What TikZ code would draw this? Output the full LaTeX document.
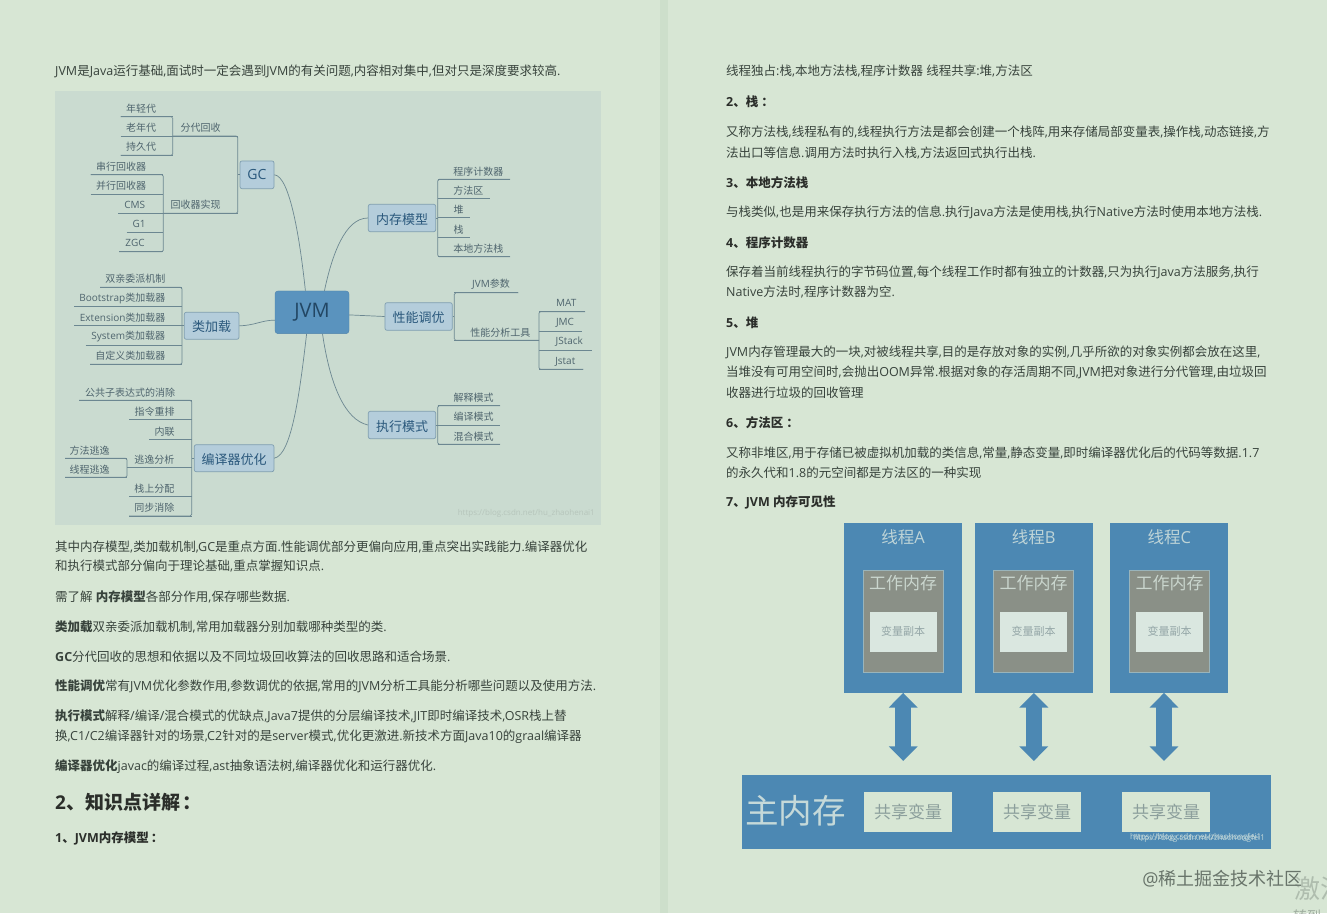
\documentclass[tikz,border=0pt]{standalone}
\usepackage{fontspec}
\usetikzlibrary{positioning,arrows.meta}
\setmainfont{Open Sans}
\newfontfamily\cjk{Noto Sans CJK SC}
% switch family by character range
\chardef\cjkcls=7
\newcount\cjkidx
\cjkidx="3000 \loop \XeTeXcharclass\cjkidx=\cjkcls \ifnum\cjkidx<"30FF \advance\cjkidx 1 \repeat
\cjkidx="4E00 \loop \XeTeXcharclass\cjkidx=\cjkcls \ifnum\cjkidx<"9FFF \advance\cjkidx 1 \repeat
\cjkidx="FF00 \loop \XeTeXcharclass\cjkidx=\cjkcls \ifnum\cjkidx<"FFEF \advance\cjkidx 1 \repeat
\XeTeXinterchartokenstate=1
\XeTeXinterchartoks 0 \cjkcls={\cjk}
\XeTeXinterchartoks 4095 \cjkcls={\cjk}
\XeTeXinterchartoks \cjkcls 0={\rmfamily}
\XeTeXinterchartoks \cjkcls 4095={\rmfamily}
\definecolor{pagebg}{HTML}{D7E6D4}
\definecolor{gutter}{HTML}{CDDFCB}
\definecolor{panelbg}{HTML}{CADBD0}
\definecolor{bodyink}{HTML}{38433C}
\definecolor{leafink}{HTML}{4F656E}
\definecolor{twigline}{HTML}{6C8791}
\definecolor{topicfill}{HTML}{B4CDDB}
\definecolor{topicline}{HTML}{7F9EB0}
\definecolor{topicink}{HTML}{2A587C}
\definecolor{rootfill}{HTML}{5A93BE}
\definecolor{threadblue}{HTML}{4C88B3}
\definecolor{workgrey}{HTML}{8A9087}
\definecolor{copybox}{HTML}{DAE7E0}
\begin{document}
\begin{tikzpicture}[
     x=1pt,y=-1pt,
     % define styles
     para/.style={anchor=west,inner sep=0pt,yshift=-0.5pt,text=bodyink,font=\fontsize{12.5}{15}\selectfont},
     parahead/.style={para,text=black!80!pagebg,font=\fontsize{12.5}{15}\selectfont\bfseries},
     leaf/.style={inner sep=0pt,yshift=-0.7pt,text=leafink,font=\fontsize{10}{12}\selectfont},
     twig/.style={draw=twigline,line width=0.7pt,rounded corners=1.5pt},
     bough/.style={draw=twigline,line width=0.7pt},
     topic/.style={draw=topicline,fill=topicfill,rounded corners=2pt,line width=0.7pt,inner sep=0pt,
         text height=12pt,text depth=0pt,text=topicink,font=\fontsize{13}{15}\selectfont},
     root/.style={draw=rootfill!90!black,fill=rootfill,rounded corners=3pt,inner sep=0pt,
         minimum width=74pt,minimum height=42.7pt,text=topicink!80!black,font=\fontsize{20}{24}\selectfont},
     thread/.style={fill=threadblue,inner sep=0pt,minimum width=118.3pt,minimum height=169.4pt},
     workbox/.style={fill=workgrey,draw=topicline!70!pagebg,line width=0.6pt,inner sep=0pt,
         minimum width=80.3pt,minimum height=102.7pt},
     copyvar/.style={fill=copybox,inner sep=0pt,minimum width=67.4pt,minimum height=40pt,
         text=leafink!50!copybox,font=\fontsize{11}{13}\selectfont},
     sharevar/.style={copyvar,fill=pagebg,minimum width=87.5pt,text=leafink!55!pagebg,font=\fontsize{17}{20}\selectfont},
     bigtitle/.style={inner sep=0pt,text=copybox!80!threadblue,font=\fontsize{16.5}{20}\selectfont},
     worktitle/.style={inner sep=0pt,text=copybox!80!workgrey,font=\fontsize{17}{20}\selectfont},
     flow/.style={threadblue,line width=16pt,{Triangle[length=14.6pt,width=28pt]}-{Triangle[length=14.6pt,width=28pt]}},
     stamp/.style={inner sep=0pt,font=\fontsize{8}{10}\selectfont}
]
\fill[pagebg] (0,0) rectangle (1327,913);
\useasboundingbox (0,0) rectangle (1327,913);
\fill[gutter] (660,0) rectangle (668,913);

% left column text
\node[para] (introa) at (55,71) {JVM是Java运行基础,面试时一定会遇到JVM的有关问题,内容相对集中,但对只是深度要求较高.};
\node[para] (sumaa) at (55,546) {其中内存模型,类加载机制,GC是重点方面.性能调优部分更偏向应用,重点突出实践能力.编译器优化};
\node[para] (sumab) at (55,566) {和执行模式部分偏向于理论基础,重点掌握知识点.};
\node[para] (sumb) at (55,596) {需了解 \textbf{内存模型}各部分作用,保存哪些数据.};
\node[para] (sumc) at (55,626) {\textbf{类加载}双亲委派加载机制,常用加载器分别加载哪种类型的类.};
\node[para] (sumd) at (55,656) {\textbf{GC}分代回收的思想和依据以及不同垃圾回收算法的回收思路和适合场景.};
\node[para] (sume) at (55,686) {\textbf{性能调优}常有JVM优化参数作用,参数调优的依据,常用的JVM分析工具能分析哪些问题以及使用方法.};
\node[para] (sumfa) at (55,716) {\textbf{执行模式}解释/编译/混合模式的优缺点,Java7提供的分层编译技术,JIT即时编译技术,OSR栈上替};
\node[para] (sumfb) at (55,736) {换,C1/C2编译器针对的场景,C2针对的是server模式,优化更激进.新技术方面Java10的graal编译器};
\node[para] (sumg) at (55,766) {\textbf{编译器优化}javac的编译过程,ast抽象语法树,编译器优化和运行器优化.};
\node[parahead,font=\fontsize{19}{23}\selectfont\bfseries] (heada) at (55,801.5) {2、知识点详解\hspace{2pt}：};
\node[parahead] (headb) at (55,838) {1、JVM内存模型\hspace{2pt}：};

% right column text
\node[para] (ownera) at (726,71) {线程独占:栈,本地方法栈,程序计数器 线程共享:堆,方法区};
\node[parahead] (stackh) at (726,101) {2、栈\hspace{3pt}：};
\node[para] (stacka) at (726,131) {又称方法栈,线程私有的,线程执行方法是都会创建一个栈阵,用来存储局部变量表,操作栈,动态链接,方};
\node[para] (stackb) at (726,152) {法出口等信息.调用方法时执行入栈,方法返回式执行出栈.};
\node[parahead] (nativeh) at (726,182) {3、本地方法栈};
\node[para] (nativea) at (726,212) {与栈类似,也是用来保存执行方法的信息.执行Java方法是使用栈,执行Native方法时使用本地方法栈.};
\node[parahead] (counth) at (726,242) {4、程序计数器};
\node[para] (counta) at (726,272) {保存着当前线程执行的字节码位置,每个线程工作时都有独立的计数器,只为执行Java方法服务,执行};
\node[para] (countb) at (726,292) {Native方法时,程序计数器为空.};
\node[parahead] (heaph) at (726,322) {5、堆};
\node[para] (heapa) at (726,352) {JVM内存管理最大的一块,对被线程共享,目的是存放对象的实例,几乎所欲的对象实例都会放在这里,};
\node[para] (heapb) at (726,372) {当堆没有可用空间时,会抛出OOM异常.根据对象的存活周期不同,JVM把对象进行分代管理,由垃圾回};
\node[para] (heapc) at (726,392) {收器进行垃圾的回收管理};
\node[parahead] (methh) at (726,422) {6、方法区\hspace{3pt}：};
\node[para] (metha) at (726,452) {又称非堆区,用于存储已被虚拟机加载的类信息,常量,静态变量,即时编译器优化后的代码等数据.1.7};
\node[para] (methb) at (726,472) {的永久代和1.8的元空间都是方法区的一种实现};
\node[parahead] (seeh) at (726,502) {7、JVM 内存可见性};

% mind map panel
\fill[panelbg] (55,91) rectangle (601,525);
\node[root] (jvm) at (312,312.3) {JVM};
\node[topic,text height=10pt,minimum width=34pt,minimum height=27.7pt,font=\fontsize{14}{16}\selectfont] (gc) at (257,174.8) {GC};
\node[topic,minimum width=54.7pt,minimum height=27pt] (loader) at (211.6,325.8) {类加载};
\node[topic,minimum width=79.7pt,minimum height=27pt] (compiler) at (234.1,458.2) {编译器优化};
\node[topic,minimum width=67.4pt,minimum height=27.4pt] (memory) at (402,218) {内存模型};
\node[topic,minimum width=67.3pt,minimum height=27.6pt] (tuning) at (418.6,316.5) {性能调优};
\node[topic,minimum width=67.4pt,minimum height=27.4pt] (exec) at (402,425) {执行模式};

% leaf: name/text x/text y/line start/line y/line end/text
\foreach \id/\tx/\ty/\la/\ly/\lb/\txt in {
  young/141/108/120.7/116.7/172.7/年轻代,
  old/141/127/120.7/136/172.7/老年代,
  perm/141/146/120.7/155.3/172.7/持久代,
  gen/200.7/127.3/172.7/136/237.7/分代回收,
  impl/195.7/204.3/163.3/213.3/237.7/回收器实现,
  serial/121/166/90.7/174.7/163.3/串行回收器,
  para/121/185/90.7/194/163.3/并行回收器,
  cms/134.7/204/118/213.3/163.3/CMS,
  gone/139/223.3/126.7/232.3/163.3/G1,
  zgc/135/242.7/119/251.7/163.3/ZGC,
  parent/135.3/278.3/100/287.3/182/双亲委派机制,
  boot/122.3/297.7/74/306.7/182/Bootstrap类加载器,
  ext/122.7/316.7/74/325.3/182/Extension类加载器,
  sys/128.3/336/85.7/345/182/System类加载器,
  self/130.3/355.3/90/364.3/182/自定义类加载器,
  cse/130/391.7/79/400.3/191.7/公共子表达式的消除,
  reorder/154.7/411.3/129/419.7/191.7/指令重排,
  inline/164.7/430.7/149/439/191.7/内联,
  escape/154.3/458.7/127/467.3/191.7/逃逸分析,
  onstack/154.3/487.7/129/496.7/191.7/栈上分配,
  sync/154.3/507.3/129/516/191.7/同步消除,
  methesc/89.7/449.7/65/458.3/127/方法逃逸,
  thresc/89.7/468.7/65/477.3/127/线程逃逸,
  pc/478.3/170.7/437.7/179.3/510/程序计数器,
  area/468.3/190/437.7/198.7/490/方法区,
  heap/458.7/209.3/437.7/217.7/470/堆,
  stack/458.7/228.7/437.7/237.3/470/栈,
  native/478.3/247.7/437.7/256.7/510/本地方法栈,
  param/491/283.7/454.3/292.7/518.3/JVM参数,
  tool/500.3/331.7/454.3/340.3/539/性能分析工具,
  mat/566.3/302.7/539/311.7/585/MAT,
  jmc/565/322/539/331/582.3/JMC,
  jstack/569.3/341.3/539/350.3/591.7/JStack,
  jstat/565.3/360.7/539/369.3/583.3/Jstat,
  interp/473.7/397/437.7/405.7/500/解释模式,
  compile/473.7/416.3/437.7/425/500/编译模式,
  mixed/473.7/435.7/437.7/444.3/500/混合模式%
}{
  \node[leaf] (\id) at (\tx,\ty) {\txt};
  \coordinate (\id-a) at (\la,\ly);
  \coordinate (\id-b) at (\lb,\ly);
  \draw[twig] (\id-a) -- (\id-b);
}

% trunks of the left trees close at the line ends
\draw[twig] (young-a) -- (young-b) -- (perm-b) -- (perm-a);
\draw[twig] (serial-a) -- (serial-b) -- (zgc-b) -- (zgc-a);
\draw[twig] (gen-a) -- (gen-b) -- (impl-b) -- (impl-a);
\draw[twig] (parent-a) -- (parent-b) -- (self-b) -- (self-a);
\draw[twig] (cse-a) -- (cse-b) -- (sync-b) -- (sync-a);
\draw[twig] (methesc-a) -- (methesc-b) -- (thresc-b) -- (thresc-a);
% right trees start at the trunk
\draw[twig] (pc-b) -- (pc-a) -- (native-a) -- (native-b);
\draw[twig] (param-b) -- (param-a) -- (tool-a) -- (tool-b);
\draw[twig] (mat-b) -- (mat-a) -- (jstat-a) -- (jstat-b);
\draw[twig] (interp-b) -- (interp-a) -- (mixed-a) -- (mixed-b);

% ties
\draw[bough] (gc.west) -- (gc.west -| gen-b);
\draw[bough] (loader.west) -- (loader.west -| ext-b);
\draw[bough] (compiler.west) -- (compiler.west -| cse-b);
\draw[bough] (memory.east) -- (memory.east -| pc-a);
\draw[bough] (tuning.east) -- (tuning.east -| param-a);
\draw[bough] (exec.east) -- (exec.east -| interp-a);

% boughs to the root
\draw[bough] (gc.east) .. controls (290,176) and (300,240) .. (jvm.107);
\draw[bough] (compiler.east) .. controls (292,455) and (300,390) .. (jvm.256);
\draw[bough] (memory.west) .. controls (345,218) and (332,255) .. (jvm.60);
\draw[bough] (exec.west) .. controls (345,420) and (330,385) .. (jvm.296);
\draw[bough] (loader.east) .. controls (255,325.5) and (262,320) .. (jvm.192);
\draw[bough] (tuning.west) -- (jvm.-4);

\node[stamp,text=panelbg!90!black,anchor=east] (mapstamp) at (595,513) {https://blog.csdn.net/hu\_zhaohenai1};

% thread boxes
\foreach \id/\cx/\wx/\nm in {a/903.2/903.2/A,b/1033.8/1033.5/B,c/1169.3/1169.5/C}{
  \node[thread] (thread\id) at (\cx,608) {};
  \node[bigtitle] (title\id) at (\cx,537) {线程\nm};
  \node[workbox] (work\id) at (\wx,621.4) {};
  \node[worktitle] (worktitle\id) at (\wx,583) {工作内存};
  \node[copyvar] (copy\id) at (\wx,631.7) {变量副本};
}

% main memory
\node[fill=threadblue,inner sep=0pt,minimum width=528.7pt,minimum height=74pt] (mainmem) at (1006.7,812) {};
\node[inner sep=0pt,text=copybox!85!threadblue,font=\fontsize{33.5}{38}\selectfont] (maintitle) at (795.7,811) {主内存};
\node[sharevar] (sharea) at (908.2,812) {共享变量};
\node[sharevar] (shareb) at (1037.2,812) {共享变量};
\node[sharevar] (sharec) at (1166,812) {共享变量};
\node[stamp,text=copybox!85!threadblue,anchor=west] (stampa) at (1130,837) {https://blog.csdn.net/zhaohongfei1};
\node[stamp,text=copybox!85!threadblue,anchor=east] (stampb) at (1265,838) {https://blog.csdn.net/zhaohongfei1};

% arrows between threads and main memory
\coordinate (flowa) at (903.2,761);
\coordinate (flowb) at (1033.8,761);
\coordinate (flowc) at (1164,761);
\draw[flow] (threada.south) -- (flowa);
\draw[flow] (threadb.south) -- (flowb);
\draw[flow] (threadc.south -| flowc) -- (flowc);

% page marks
\node[inner sep=0pt,anchor=west,text=bodyink!25!pagebg,font=\fontsize{26}{30}\selectfont] (markbig) at (1294,889) {激活};
\node[inner sep=0pt,anchor=west,text=bodyink!35!pagebg,font=\fontsize{14}{16}\selectfont] (marksmall) at (1293,916) {转到};
\node[inner sep=0pt,anchor=center,text=bodyink!70!pagebg,font=\fontsize{18}{21}\selectfont] (brand) at (1222.5,879) {@稀土掘金技术社区};
\end{tikzpicture}
\end{document}
